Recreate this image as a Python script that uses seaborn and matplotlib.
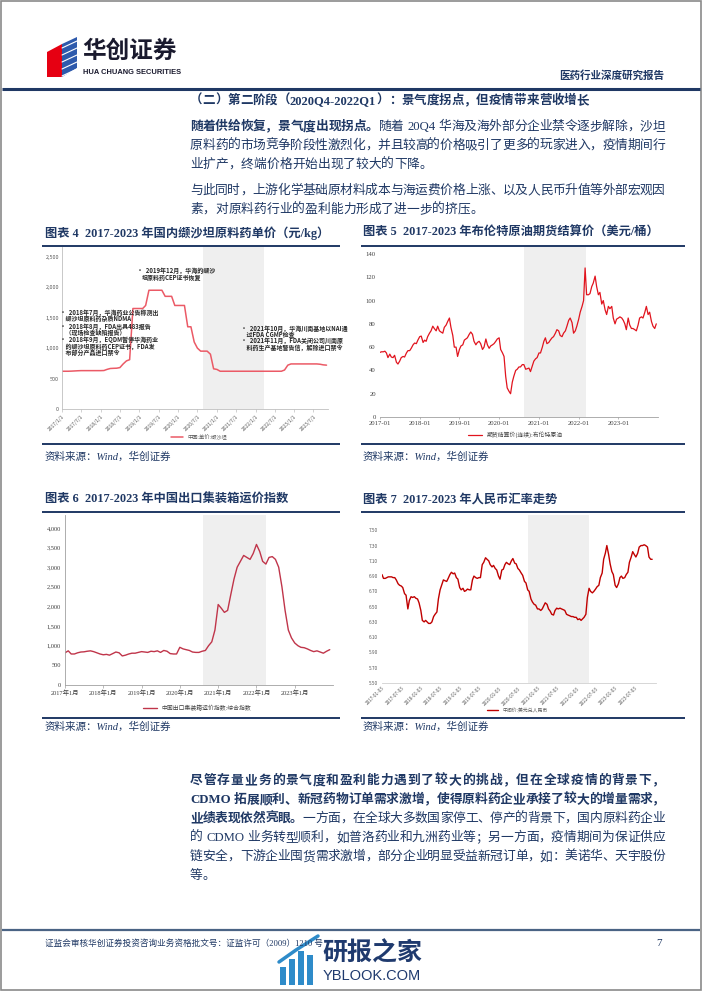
import numpy as np
import pandas as pd
import matplotlib
matplotlib.use('Agg')
import matplotlib.pyplot as plt
import seaborn as sns
from matplotlib.patches import Rectangle, Polygon
from matplotlib.lines import Line2D

# ---------------- data ----------------
# Chart 4: valsartan API price (yuan/kg), monthly from 2017-01
valsartan_price = [
    620, 620, 620, 622, 625, 628, 630, 630, 630, 630, 630, 630,
    630, 632, 650, 665, 668, 670, 680, 740, 790, 810, 1650, 1650,
    1650, 1650, 1700, 1950, 1950, 1950, 1950, 1950, 1850, 1850, 1850, 1700,
    1700, 1700, 1700, 1350, 1350, 1100, 1000, 950, 950, 950, 900, 660,
    650, 620, 620, 620, 620, 620, 620, 620, 620, 620, 620, 620,
    620, 620, 620, 620, 620, 620, 620, 620, 620, 640, 720, 740,
    740, 740, 740, 740, 740, 740, 740, 740, 735, 725, 720,
]
val_xtick_dates = ['2017-01-01', '2017-07-01', '2018-01-01', '2018-07-01', '2019-01-01', '2019-07-01',
                   '2020-01-01', '2020-07-01', '2021-01-01', '2021-07-01', '2022-01-01', '2022-07-01',
                   '2023-01-01', '2023-07-01']
val_xtick_labels = ['2017/1/1', '2017/7/1', '2018/1/1', '2018/7/1', '2019/1/1', '2019/7/1',
                    '2020/1/1', '2020/7/1', '2021/1/1', '2021/7/1', '2022/1/1', '2022/7/1',
                    '2023/1/1', '2023/7/1']
val_yticks = [0, 500, 1000, 1500, 2000, 2500]
val_legend = '中国:单价:缬沙坦'

# Chart 5: Brent futures settlement (USD/bbl), semi-monthly from 2017-01
brent = [
    55.5, 56, 56, 56.5, 55, 51, 54, 51.5, 51, 53, 47, 45.5, 48, 51, 52, 51.5, 55, 57, 57, 59, 62, 63.5, 63, 66,
    69, 69.5, 64, 66, 65, 69, 72, 74, 78, 76, 74, 78, 74, 73, 72, 77, 79, 82, 85, 77, 70, 60, 60, 52,
    58, 61, 62, 66, 67, 68, 71, 73, 71, 65, 62, 64, 65, 63, 58, 60, 67, 62, 59, 61, 62, 63, 65, 67,
    68, 58, 55, 52, 35, 25, 22, 20, 30, 35, 40, 41, 43, 43, 45, 45, 41, 41.5, 42, 39, 44, 48, 50, 51,
    55, 55, 60, 65, 68, 63, 64, 66, 68, 69, 72, 75, 74, 70, 69, 72, 74, 78, 83, 85, 81, 72, 74, 78,
    84, 90, 95, 100, 128, 105, 105, 106, 112, 115, 121, 112, 105, 107, 97, 100, 92, 88, 95, 93, 95, 85, 80, 84,
    85, 86, 85, 83, 80, 75, 85, 79, 76, 76, 75, 74, 79, 85, 86, 85, 90, 95, 88, 90, 82, 78, 76, 80,
]
brent_xtick_dates = ['2017-01-01', '2018-01-01', '2019-01-01', '2020-01-01', '2021-01-01', '2022-01-01', '2023-01-01']
brent_xtick_labels = ['2017-01', '2018-01', '2019-01', '2020-01', '2021-01', '2022-01', '2023-01']
brent_yticks = [0, 20, 40, 60, 80, 100, 120, 140]
brent_legend = '期货结算价(连续):布伦特原油'

# Chart 6: China containerized freight index, monthly from 2017-01
ccfi = [
    820, 870, 790, 790, 820, 840, 845, 860, 870, 850, 820, 790,
    770, 780, 760, 800, 840, 820, 740, 760, 790, 810, 810, 830,
    850, 840, 830, 860, 850, 870, 830, 880, 860, 800, 790, 790,
    960, 920, 900, 880, 840, 830, 830, 860, 880, 1000, 1100, 1400,
    2050, 1950, 1850, 1900, 2300, 2700, 3000, 3150, 3300, 3250, 3200, 3350,
    3580, 3400, 3150, 3080, 3250, 3270, 3200, 3000, 2500, 1900, 1400, 1200,
    1070, 1000, 960, 950, 920, 880, 850, 870, 840, 810, 860, 900,
]
ccfi_xtick_dates = ['2017-01-01', '2018-01-01', '2019-01-01', '2020-01-01', '2021-01-01', '2022-01-01', '2023-01-01']
ccfi_xtick_labels = ['2017年1月', '2018年1月', '2019年1月', '2020年1月', '2021年1月', '2022年1月', '2023年1月']
ccfi_yticks = [0, 500, 1000, 1500, 2000, 2500, 3000, 3500, 4000]
ccfi_legend = '中国出口集装箱运价指数:综合指数'

# Chart 7: USD/CNY central parity, semi-monthly from 2017-01
usdcny = [
    6.92, 6.87, 6.87, 6.88, 6.89, 6.89, 6.89, 6.88, 6.88, 6.85, 6.80, 6.78,
    6.77, 6.75, 6.67, 6.65, 6.47, 6.58, 6.63, 6.62, 6.63, 6.61, 6.60, 6.55,
    6.45, 6.32, 6.30, 6.32, 6.30, 6.28, 6.28, 6.30, 6.37, 6.40, 6.43, 6.60,
    6.72, 6.78, 6.85, 6.84, 6.83, 6.87, 6.92, 6.95, 6.93, 6.94, 6.88, 6.86,
    6.75, 6.72, 6.74, 6.70, 6.71, 6.73, 6.72, 6.72, 6.85, 6.90, 6.88, 6.87,
    6.88, 6.88, 7.05, 7.08, 7.14, 7.12, 7.10, 7.05, 7.02, 7.04, 7.00, 6.98,
    6.90, 6.86, 6.98, 6.99, 7.05, 7.08, 7.06, 7.05, 7.10, 7.13, 7.07, 7.06,
    7.00, 6.98, 6.94, 6.91, 6.83, 6.81, 6.72, 6.70, 6.60, 6.56, 6.53, 6.52,
    6.47, 6.47, 6.45, 6.47, 6.51, 6.55, 6.53, 6.47, 6.44, 6.40, 6.39, 6.45,
    6.48, 6.47, 6.48, 6.47, 6.46, 6.45, 6.40, 6.39, 6.38, 6.37, 6.37, 6.36,
    6.36, 6.33, 6.34, 6.32, 6.34, 6.36, 6.40, 6.62, 6.74, 6.70, 6.68, 6.70,
    6.73, 6.76, 6.78, 6.88, 6.94, 7.12, 7.20, 7.30, 7.18, 7.06, 6.96, 6.92,
    6.78, 6.75, 6.80, 6.88, 6.90, 6.87, 6.88, 6.92, 6.95, 7.08, 7.15, 7.22,
    7.18, 7.15, 7.20, 7.28, 7.30, 7.30, 7.31, 7.30, 7.28, 7.15, 7.12, 7.12,
]
cny_xtick_dates = ['2017-01-03', '2017-07-03', '2018-01-03', '2018-07-03', '2019-01-03', '2019-07-03',
                   '2020-01-03', '2020-07-03', '2021-01-03', '2021-07-03', '2022-01-03', '2022-07-03',
                   '2023-01-03', '2023-07-03']
cny_yticks = [5.50, 5.70, 5.90, 6.10, 6.30, 6.50, 6.70, 6.90, 7.10, 7.30, 7.50]
cny_legend = '中间价:美元兑人民币'

# ---------------- setup ----------------
sns.set_theme(style='white')
plt.rcParams['font.family'] = ['Noto Sans CJK SC', 'DejaVu Sans']
plt.rcParams['axes.unicode_minus'] = False

W, H = 702, 991
fig = plt.figure(figsize=(W / 100, H / 100), dpi=100)
fig.patch.set_facecolor('white')

NAVY = '#1F3864'
SERIF_CJK = ['Liberation Serif', 'Noto Sans CJK SC']


def fx(x):
    return x / W


def fy(y):
    return 1 - y / H


def axes_px(l, t, r, b):
    return fig.add_axes([l / W, 1 - b / H, (r - l) / W, (b - t) / H])


def hline(x0, x1, y, color, lw):
    fig.add_artist(Line2D([fx(x0), fx(x1)], [fy(y), fy(y)], transform=fig.transFigure,
                          color=color, lw=lw, solid_capstyle='butt'))


renderer = fig.canvas.get_renderer()


def tokens_of(s):
    toks, buf = [], ''
    for ch in s:
        if ord(ch) < 128 and ch != ' ':
            buf += ch
        else:
            if buf:
                toks.append(buf)
                buf = ''
            toks.append(ch)
    if buf:
        toks.append(buf)
    return toks


def measure(tok, size, weight, family):
    if tok == ' ':
        return size * 0.28 * 100 / 72
    t = fig.text(0, 0, tok, fontsize=size, fontweight=weight, family=family)
    w = t.get_window_extent(renderer).width
    t.remove()
    return w


def draw_line(x0, x1, y, segs, size=9.2, justify=True, color=NAVY):
    items = []
    for text, weight in segs:
        for tok in tokens_of(text):
            items.append((tok, weight))
    widths = [measure(t, size, w, SERIF_CJK) for t, w in items]
    total = sum(widths)
    gap = (x1 - x0 - total) / (len(items) - 1) if (justify and len(items) > 1) else 0
    x = x0
    for (tok, weight), w in zip(items, widths):
        if tok != ' ':
            fig.text(fx(x), fy(y), tok, fontsize=size, fontweight=weight, family=SERIF_CJK,
                     color=color, va='center', ha='left')
        x += w + gap


# ---------------- page frame, header, footer ----------------
fig.add_artist(Rectangle((0.0015, 0.001), 0.997, 0.998, transform=fig.transFigure,
                         fill=False, edgecolor='#8a8a8a', lw=1.2))

# logo icon
fig.add_artist(Polygon([(fx(47), fy(52)), (fx(62), fy(44)), (fx(62), fy(77)), (fx(47), fy(77))],
                       closed=True, transform=fig.transFigure, facecolor='#E60012', edgecolor='none'))
fig.add_artist(Polygon([(fx(62), fy(44)), (fx(77), fy(37)), (fx(77), fy(68)), (fx(62), fy(77))],
                       closed=True, transform=fig.transFigure, facecolor='#2E5AAC', edgecolor='none'))
for k in range(5):
    yy = 42 + k * 7
    fig.add_artist(Line2D([fx(62), fx(77)], [fy(yy + 6), fy(yy - 1)], transform=fig.transFigure,
                          color='white', lw=0.8))
fig.text(fx(82), fy(51), '华创证券', fontsize=17, fontweight='heavy', color='#1a1a2e',
         va='center', ha='left')
fig.text(fx(83), fy(73), 'HUA CHUANG SECURITIES', fontsize=5.4, fontweight='bold', color='#1a1a2e',
         va='center', ha='left', family=['Liberation Sans', 'DejaVu Sans'])
fig.text(fx(664), fy(75), '医药行业深度研究报告', fontsize=7.6, fontweight='bold', color=NAVY,
         va='center', ha='right')
hline(2, 700, 88.5, NAVY, 2.2)

hline(2, 700, 930, '#4A6384', 1.6)
fig.text(fx(45), fy(944), '证监会审核华创证券投资咨询业务资格批文号：证监许可（2009）1210 号', fontsize=6.2,
         color=NAVY, va='center', ha='left', family=SERIF_CJK)
fig.text(fx(662), fy(944), '7', fontsize=8, color=NAVY, va='center', ha='right', family=SERIF_CJK)

# watermark
for i, (h, xx) in enumerate([(18, 280), (26, 289), (34, 298), (30, 307)]):
    fig.add_artist(Rectangle((fx(xx), fy(985)), 6 / W, h / H, transform=fig.transFigure,
                             facecolor='#2E8BC9', edgecolor='none'))
fig.add_artist(Line2D([fx(279), fx(296), fx(318)], [fy(962), fy(950), fy(936)], transform=fig.transFigure,
                      color='#2E8BC9', lw=2.5))
fig.text(fx(322), fy(953), '研报之家', fontsize=18, fontweight='bold', color='#1F3A6E', va='center', ha='left')
fig.text(fx(323), fy(976), 'YBLOOK.COM', fontsize=10.5, color='#1F3A6E', va='center', ha='left',
         family=['Liberation Sans', 'DejaVu Sans'])

# ---------------- body text ----------------
X0, X1 = 190, 665
draw_line(X0, X1, 101, [('（二）第二阶段（2020Q4-2022Q1）：景气度拐点，但疫情带来营收增长', 'bold')],
          size=9.0, justify=False)
draw_line(X0, X1, 127, [('随着供给恢复，景气度出现拐点。', 'bold'),
                        ('随着 20Q4 华海及海外部分企业禁令逐步解除，沙坦', 'normal')])
draw_line(X0, X1, 146, [('原料药的市场竞争阶段性激烈化，并且较高的价格吸引了更多的玩家进入，疫情期间行', 'normal')])
draw_line(X0, X1, 165, [('业扩产，终端价格开始出现了较大的下降。', 'normal')], justify=False)
draw_line(X0, X1, 191, [('与此同时，上游化学基础原材料成本与海运费价格上涨、以及人民币升值等外部宏观因', 'normal')])
draw_line(X0, X1, 210, [('素，对原料药行业的盈利能力形成了进一步的挤压。', 'normal')], justify=False)

draw_line(X0, X1, 781, [('尽管存量业务的景气度和盈利能力遇到了较大的挑战，但在全球疫情的背景下，', 'bold')])
draw_line(X0, X1, 800, [('CDMO 拓展顺利、新冠药物订单需求激增，使得原料药企业承接了较大的增量需求，', 'bold')])
draw_line(X0, X1, 819, [('业绩表现依然亮眼。', 'bold'),
                        ('一方面，在全球大多数国家停工、停产的背景下，国内原料药企业', 'normal')])
draw_line(X0, X1, 838, [('的 CDMO 业务转型顺利，如普洛药业和九洲药业等；另一方面，疫情期间为保证供应', 'normal')])
draw_line(X0, X1, 857, [('链安全，下游企业囤货需求激增，部分企业明显受益新冠订单，如：美诺华、天宇股份', 'normal')])
draw_line(X0, X1, 876, [('等。', 'normal')], justify=False)

# ---------------- chart titles, rules and sources ----------------
for (x, y, s) in [(45, 233, '图表 4  2017-2023 年国内缬沙坦原料药单价（元/kg）'),
                  (363, 233, '图表 5  2017-2023 年布伦特原油期货结算价（美元/桶）'),
                  (45, 500, '图表 6  2017-2023 年中国出口集装箱运价指数'),
                  (363, 500, '图表 7  2017-2023 年人民币汇率走势')]:
    fig.text(fx(x), fy(y), s, fontsize=8.8, fontweight='bold', color=NAVY, family=SERIF_CJK,
             va='center', ha='left')
for y in (246, 444, 512, 718):
    hline(42, 340, y, NAVY, 1.4)
    hline(361, 685, y, NAVY, 1.4)
for (x, y) in [(45, 457), (363, 457), (45, 727), (363, 727)]:
    fig.text(fx(x), fy(y), '资料来源：Wind，华创证券', fontsize=7.6, style='italic', color=NAVY,
             family=SERIF_CJK, va='center', ha='left')

# ---------------- chart 4: valsartan ----------------
ax1 = axes_px(62, 247, 328, 409)
df1 = pd.DataFrame({'date': pd.date_range('2017-01-01', periods=len(valsartan_price), freq='MS'),
                    'price': valsartan_price})
ax1.axvspan(pd.Timestamp('2020-08-20'), pd.Timestamp('2022-03-25'), color='#EFEFEF', lw=0, zorder=0)
sns.lineplot(data=df1, x='date', y='price', ax=ax1, color='#EB5A66', lw=1.1, label=val_legend)
ax1.set_xlim(pd.Timestamp('2017-01-01'), pd.Timestamp('2023-11-15'))
ax1.set_ylim(0, 2660)
ax1.set_yticks(val_yticks)
ax1.set_yticklabels([f'{v:,}' for v in val_yticks], fontsize=3.9, color='#595959')
ax1.set_xticks([pd.Timestamp(d) for d in val_xtick_dates])
ax1.set_xticklabels(val_xtick_labels, fontsize=3.6, color='#595959', rotation=45, ha='right',
                    rotation_mode='anchor')
ax1.tick_params(axis='x', length=2, width=0.5, color='#BFBFBF', pad=1.5, bottom=True)
ax1.tick_params(axis='y', length=0, pad=2)
for s in ('top', 'right'):
    ax1.spines[s].set_visible(False)
for s in ('left', 'bottom'):
    ax1.spines[s].set_color('#BFBFBF')
    ax1.spines[s].set_linewidth(0.6)
ax1.set_xlabel('')
ax1.set_ylabel('')
ax1.legend(loc='center', bbox_to_anchor=(fx(199), fy(437)), bbox_transform=fig.transFigure,
           frameon=False, fontsize=3.8, handlelength=2.2, labelcolor='#595959')

ann_kw = dict(fontsize=4.3, fontweight='bold', color='#262626', va='center', ha='left')
fig.text(fx(137), fy(270), '•  2019年12月，华海的缬沙', **ann_kw)
fig.text(fx(142), fy(277.5), '坦原料药CEP证书恢复', **ann_kw)
for (y, s) in [(312, '•  2018年7月，华海药业公告称测出'), (318.5, '    缬沙坦原料药杂质NDMA'),
               (326, '•  2018年8月，FDA出具483报告'), (332.5, '    （现场检查缺陷报告）'),
               (339.5, '•  2018年9月，EQDM暂停华海药业'), (346, '    的缬沙坦原料药CEP证书，FDA发'),
               (352.5, '    布部分产品进口禁令')]:
    fig.text(fx(60), fy(y), s, **ann_kw)
for (y, s) in [(328, '•  2021年10月，华海川南基地以NAI通'), (334.5, '    过FDA CGMP检查'),
               (341, '•  2021年11月，FDA关闭公司川南原'), (347.5, '    料药生产基地警告信，解除进口禁令')]:
    fig.text(fx(241), fy(y), s, **ann_kw)

# ---------------- chart 5: brent ----------------
ax2 = axes_px(380, 247, 658, 417)
df2 = pd.DataFrame({'date': pd.date_range('2017-01-01', periods=len(brent), freq='SMS'),
                    'brent': brent})
ax2.axvspan(pd.Timestamp('2020-08-15'), pd.Timestamp('2022-03-12'), color='#EFEFEF', lw=0, zorder=0)
sns.lineplot(data=df2, x='date', y='brent', ax=ax2, color='#E1141E', lw=0.9, label=brent_legend)
ax2.set_xlim(pd.Timestamp('2017-01-01'), pd.Timestamp('2023-12-31'))
ax2.set_ylim(0, 146)
ax2.set_yticks(brent_yticks)
ax2.set_yticklabels([str(v) for v in brent_yticks], fontsize=4.8, color='#404040', family=SERIF_CJK)
ax2.set_xticks([pd.Timestamp(d) for d in brent_xtick_dates])
ax2.set_xticklabels(brent_xtick_labels, fontsize=4.8, color='#404040', family=SERIF_CJK)
ax2.tick_params(axis='x', length=1.5, width=0.5, color='#A0A0A0', pad=1.5, bottom=True)
ax2.tick_params(axis='y', length=0, pad=3)
for s in ('top', 'right', 'left'):
    ax2.spines[s].set_visible(False)
ax2.spines['bottom'].set_color('#A0A0A0')
ax2.spines['bottom'].set_linewidth(0.6)
ax2.set_xlabel('')
ax2.set_ylabel('')
ax2.legend(loc='center', bbox_to_anchor=(fx(515), fy(435)), bbox_transform=fig.transFigure,
           frameon=False, fontsize=4.2, handlelength=2.4, labelcolor='#404040')

# ---------------- chart 6: container freight ----------------
ax3 = axes_px(65, 515, 333, 685)
df3 = pd.DataFrame({'date': pd.date_range('2017-01-01', periods=len(ccfi), freq='MS'),
                    'ccfi': ccfi})
ax3.axvspan(pd.Timestamp('2020-08-08'), pd.Timestamp('2022-04-04'), color='#EFEFEF', lw=0, zorder=0)
sns.lineplot(data=df3, x='date', y='ccfi', ax=ax3, color='#C0354A', lw=1.0, label=ccfi_legend)
ax3.set_xlim(pd.Timestamp('2017-01-01'), pd.Timestamp('2024-01-01'))
ax3.set_ylim(0, 4330)
ax3.set_yticks(ccfi_yticks)
ax3.set_yticklabels([f'{v:,}' for v in ccfi_yticks], fontsize=4.6, color='#404040', family=SERIF_CJK)
ax3.set_xticks([pd.Timestamp(d) for d in ccfi_xtick_dates])
ax3.set_xticklabels(ccfi_xtick_labels, fontsize=4.6, color='#404040', family=SERIF_CJK)
ax3.tick_params(axis='x', length=2, width=0.5, color='#A0A0A0', pad=1.5, bottom=True)
ax3.tick_params(axis='y', length=0, pad=3)
for s in ('top', 'right'):
    ax3.spines[s].set_visible(False)
for s in ('left', 'bottom'):
    ax3.spines[s].set_color('#A0A0A0')
    ax3.spines[s].set_linewidth(0.6)
ax3.set_xlabel('')
ax3.set_ylabel('')
ax3.legend(loc='center', bbox_to_anchor=(fx(197), fy(708)), bbox_transform=fig.transFigure,
           frameon=False, fontsize=4.2, handlelength=2.4, labelcolor='#404040')

# ---------------- chart 7: USD/CNY ----------------
ax4 = axes_px(382, 515, 656, 683)
df4 = pd.DataFrame({'date': pd.date_range('2017-01-01', periods=len(usdcny), freq='SMS'),
                    'rate': usdcny})
ax4.axvspan(pd.Timestamp('2020-10-05'), pd.Timestamp('2022-05-05'), color='#EFEFEF', lw=0, zorder=0)
sns.lineplot(data=df4, x='date', y='rate', ax=ax4, color='#C00000', lw=1.0, label=cny_legend)
ax4.set_xlim(pd.Timestamp('2017-01-01'), pd.Timestamp('2024-01-20'))
ax4.set_ylim(5.50, 7.70)
ax4.set_yticks(cny_yticks)
ax4.set_yticklabels([f'{v:.2f}' for v in cny_yticks], fontsize=3.4, color='#595959')
ax4.set_xticks([pd.Timestamp(d) for d in cny_xtick_dates])
ax4.set_xticklabels(cny_xtick_dates, fontsize=3.3, color='#595959', rotation=45, ha='right',
                    rotation_mode='anchor')
ax4.tick_params(axis='x', length=0, pad=2)
ax4.tick_params(axis='y', length=0, pad=3)
for s in ('top', 'right', 'left'):
    ax4.spines[s].set_visible(False)
ax4.spines['bottom'].set_color('#D0D0D0')
ax4.spines['bottom'].set_linewidth(0.6)
ax4.set_xlabel('')
ax4.set_ylabel('')
ax4.legend(loc='center', bbox_to_anchor=(fx(517), fy(710)), bbox_transform=fig.transFigure,
           frameon=False, fontsize=3.5, handlelength=2.4, labelcolor='#595959')

fig.savefig('out.png', dpi=100, facecolor='white')
